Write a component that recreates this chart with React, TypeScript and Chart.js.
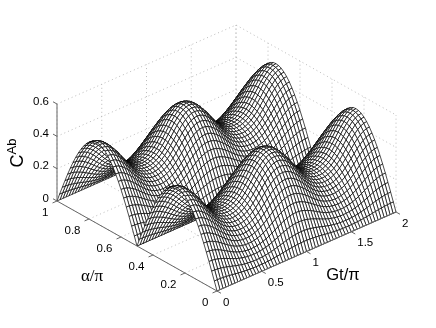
import React, { useEffect, useRef } from "react";
import { Chart, registerables } from "chart.js";

Chart.register(...registerables);

// Height of the crest (alpha = pi/4) read along Gt/pi = 0 ... 2, in 61 mesh lines
const crestByGt = [
  0.5, 0.497, 0.488, 0.473, 0.453, 0.43, 0.403, 0.375, 0.348, 0.322, 0.3, 0.282, 0.268, 0.258, 0.252, 0.25,
  0.252, 0.258, 0.268, 0.282, 0.3, 0.322, 0.348, 0.375, 0.403, 0.43, 0.453, 0.473, 0.488, 0.497, 0.5,
  0.497, 0.488, 0.473, 0.453, 0.43, 0.403, 0.375, 0.348, 0.322, 0.3, 0.282, 0.268, 0.258, 0.252, 0.25,
  0.252, 0.258, 0.268, 0.282, 0.3, 0.322, 0.348, 0.375, 0.403, 0.43, 0.453, 0.473, 0.488, 0.497, 0.5,
];
// Relative height across alpha/pi = 0 ... 1, in 61 mesh lines
const shapeByAlpha = [
  0, 0.105, 0.208, 0.309, 0.407, 0.5, 0.588, 0.669, 0.743, 0.809, 0.866, 0.914, 0.951, 0.978, 0.995, 1,
  0.995, 0.978, 0.951, 0.914, 0.866, 0.809, 0.743, 0.669, 0.588, 0.5, 0.407, 0.309, 0.208, 0.105, 0,
  0.105, 0.208, 0.309, 0.407, 0.5, 0.588, 0.669, 0.743, 0.809, 0.866, 0.914, 0.951, 0.978, 0.995, 1,
  0.995, 0.978, 0.951, 0.914, 0.866, 0.809, 0.743, 0.669, 0.588, 0.5, 0.407, 0.309, 0.208, 0.105, 0,
];
const gtMesh = crestByGt.map((_, i) => i / 30);
const alphaMesh = shapeByAlpha.map((_, j) => j / 60);

const gtTicks = [0, 0.5, 1, 1.5, 2];
const gtTickLabels = ["0", "0.5", "1", "1.5", "2"];
const alphaTicks = [0, 0.2, 0.4, 0.6, 0.8, 1];
const alphaTickLabels = ["0", "0.2", "0.4", "0.6", "0.8", "1"];
const zTicks = [0, 0.2, 0.4, 0.6];
const zTickLabels = ["0", "0.2", "0.4", "0.6"];

const project = (gt: number, alpha: number, z: number) => ({
  x: 217 + (179 * gt) / 2 - 160 * alpha,
  y: 291 - (79 * gt) / 2 - 90 * alpha - (z / 0.6) * 97,
});

const polyline = (pts: { x: number; y: number }[], color: string, width: number, dash: number[] = []) => ({
  data: pts,
  borderColor: color,
  borderWidth: width,
  borderDash: dash,
  pointRadius: 0,
  fill: false,
  showLine: true,
  tension: 0,
});

const buildDatasets = () => {
  const sets: any[] = [];
  const axisColor = "#666";
  const tickLen = 0.025;

  // solid axes and ticks: listed first, so painted last
  sets.push(polyline([project(0, 1, 0), project(0, 1, 0.6)], axisColor, 1));
  sets.push(polyline([project(0, 0, 0), project(0, 1, 0)], axisColor, 1));
  sets.push(polyline([project(0, 0, 0), project(2, 0, 0)], axisColor, 1));
  gtTicks.forEach((g) =>
    sets.push(polyline([project(g, 0, 0), project(g, -tickLen, 0)], axisColor, 1))
  );
  alphaTicks.forEach((a) =>
    sets.push(polyline([project(0, a, 0), project(-tickLen * 2, a, 0)], axisColor, 1))
  );
  zTicks.forEach((z) =>
    sets.push(polyline([project(0, 1, z), project(0, 1 + tickLen, z)], axisColor, 1))
  );

  // the mesh, nearest cell first so that it is painted over the cells behind it
  for (let i = 0; i < gtMesh.length - 1; i++) {
    for (let j = 0; j < alphaMesh.length - 1; j++) {
      const corner = (a: number, b: number) =>
        project(gtMesh[a], alphaMesh[b], crestByGt[a] * shapeByAlpha[b]);
      sets.push({
        data: [corner(i, j), corner(i + 1, j), corner(i + 1, j + 1), corner(i, j + 1), corner(i, j)],
        borderColor: "#000",
        borderWidth: 0.7,
        backgroundColor: "#fff",
        pointRadius: 0,
        fill: "shape",
        showLine: true,
        tension: 0,
      });
    }
  }

  // dotted box and grid behind the surface
  const dot = "#aaa";
  const d = [1, 3];
  gtTicks.forEach((g) => {
    sets.push(polyline([project(g, 0, 0), project(g, 1, 0), project(g, 1, 0.6)], dot, 0.8, d));
  });
  alphaTicks.forEach((a) => {
    sets.push(polyline([project(0, a, 0), project(2, a, 0), project(2, a, 0.6)], dot, 0.8, d));
  });
  zTicks.forEach((z) => {
    sets.push(polyline([project(0, 1, z), project(2, 1, z), project(2, 0, z)], dot, 0.8, d));
  });
  return sets;
};

const textPlugin = {
  id: "axisText",
  afterDraw(chart: any) {
    const { ctx, scales } = chart;
    const at = (p: { x: number; y: number }) => ({
      x: scales.x.getPixelForValue(p.x),
      y: scales.y.getPixelForValue(p.y),
    });
    const put = (t: string, x: number, y: number, align: CanvasTextAlign, font: string) => {
      ctx.font = font;
      ctx.textAlign = align;
      ctx.textBaseline = "middle";
      ctx.fillStyle = "#000";
      ctx.fillText(t, x, y);
    };
    const tickFont = '11.5px "Liberation Sans"';
    ctx.save();
    gtTicks.forEach((g, i) => {
      const p = at(project(g, 0, 0));
      put(gtTickLabels[i], p.x + 6, p.y + 11.5, "left", tickFont);
    });
    alphaTicks.forEach((a, i) => {
      const p = at(project(0, a, 0));
      put(alphaTickLabels[i], p.x - 8.5, p.y + 11.5, "right", tickFont);
    });
    zTicks.forEach((z, i) => {
      const p = at(project(0, 1, z));
      put(zTickLabels[i], p.x - 8, p.y - 2.5, "right", tickFont);
    });
    put("Gt/π", 343, 275, "center", '16.6px "Liberation Sans"');
    put("α/π", 92, 277, "center", '17px "Liberation Serif"');
    ctx.translate(18, 161);
    ctx.rotate(-Math.PI / 2);
    put("C", 0, 0, "center", '18px "Liberation Sans"');
    put("Ab", 14.5, -6, "center", '13px "Liberation Sans"');
    ctx.restore();
  },
};

export default function App() {
  const ref = useRef<HTMLCanvasElement>(null);
  useEffect(() => {
    const chart = new Chart(ref.current as HTMLCanvasElement, {
      type: "scatter",
      data: { datasets: buildDatasets() },
      options: {
        animation: false,
        responsive: false,
        events: [],
        layout: { padding: 0 },
        plugins: { legend: { display: false }, tooltip: { enabled: false } },
        scales: {
          x: { type: "linear", display: false, min: 0, max: 436 },
          y: { type: "linear", display: false, min: 0, max: 328, reverse: true },
        },
      },
      plugins: [textPlugin],
    } as any);
    return () => chart.destroy();
  }, []);
  return (
    <div style={{ position: "fixed", left: 0, top: 0, width: 436, height: 328, background: "#fff" }}>
      <canvas ref={ref} width={436} height={328} style={{ display: "block" }} />
    </div>
  );
}
